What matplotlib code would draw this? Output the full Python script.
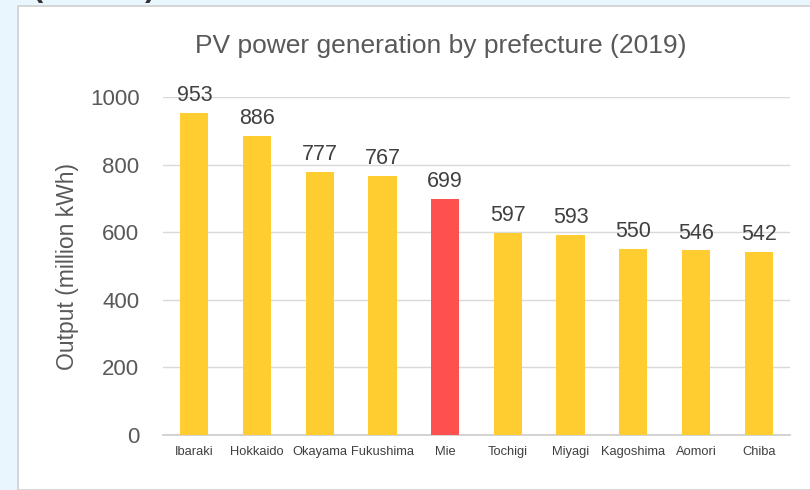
import matplotlib
matplotlib.use("Agg")
import matplotlib.pyplot as plt
from matplotlib.patches import Rectangle

prefectures = ["Ibaraki", "Hokkaido", "Okayama", "Fukushima", "Mie",
               "Tochigi", "Miyagi", "Kagoshima", "Aomori", "Chiba"]
output = [953, 886, 777, 767, 699, 597, 593, 550, 546, 542]
highlight = "Mie"

plt.rcParams["font.family"] = ["Liberation Sans", "DejaVu Sans"]

fig = plt.figure(figsize=(8.1, 4.9), dpi=100)
fig.patch.set_facecolor("#EAF6FD")

# white card behind the chart
card = Rectangle((18 / 810, 0), 1.0, (490 - 6) / 490, transform=fig.transFigure,
                 facecolor="white", edgecolor="#D0D0D0", lw=1.2, zorder=-10)
fig.patches.append(card)

# cut-off heading at the top of the page
fig.text(33 / 810, 1.0 + 12 / 490, "(            )", fontsize=22, fontweight="bold",
         color="#333333", va="center", ha="left")

ax = fig.add_axes([163 / 810, (490 - 435) / 490, (790 - 163) / 810, (435 - 97) / 490])
ax.set_facecolor("none")

colors = ["#FF5050" if p == highlight else "#FFCD2F" for p in prefectures]
bars = ax.bar(prefectures, output, width=0.45, color=colors, zorder=3)
for b, v in zip(bars, output):
    ax.annotate(str(v), (b.get_x() + b.get_width() / 2, v), xytext=(0, 5),
                textcoords="offset points", ha="center", va="bottom",
                fontsize=15.5, color="#404040")

ax.set_ylim(0, 1000)
ax.set_xlim(-0.5, len(prefectures) - 0.5)
ax.set_yticks(range(0, 1001, 200))
ax.grid(axis="y", color="#D9D9D9", lw=1, zorder=0)
for s in ["top", "right", "left"]:
    ax.spines[s].set_visible(False)
ax.spines["bottom"].set_color("#D0D0D0")
ax.spines["bottom"].set_linewidth(1.3)
ax.tick_params(axis="both", length=0)
ax.tick_params(axis="y", labelsize=16, labelcolor="#595959", pad=17)
ax.tick_params(axis="x", labelsize=9.3, labelcolor="#404040", pad=8)
ax.set_ylabel("Output (million kWh)", fontsize=16.5, color="#595959", labelpad=8)

fig.text(441 / 810, 1 - 46 / 490, "PV power generation by prefecture (2019)",
         fontsize=19, color="#595959", ha="center", va="center")

fig.savefig("out.png", dpi=100, facecolor=fig.get_facecolor())
